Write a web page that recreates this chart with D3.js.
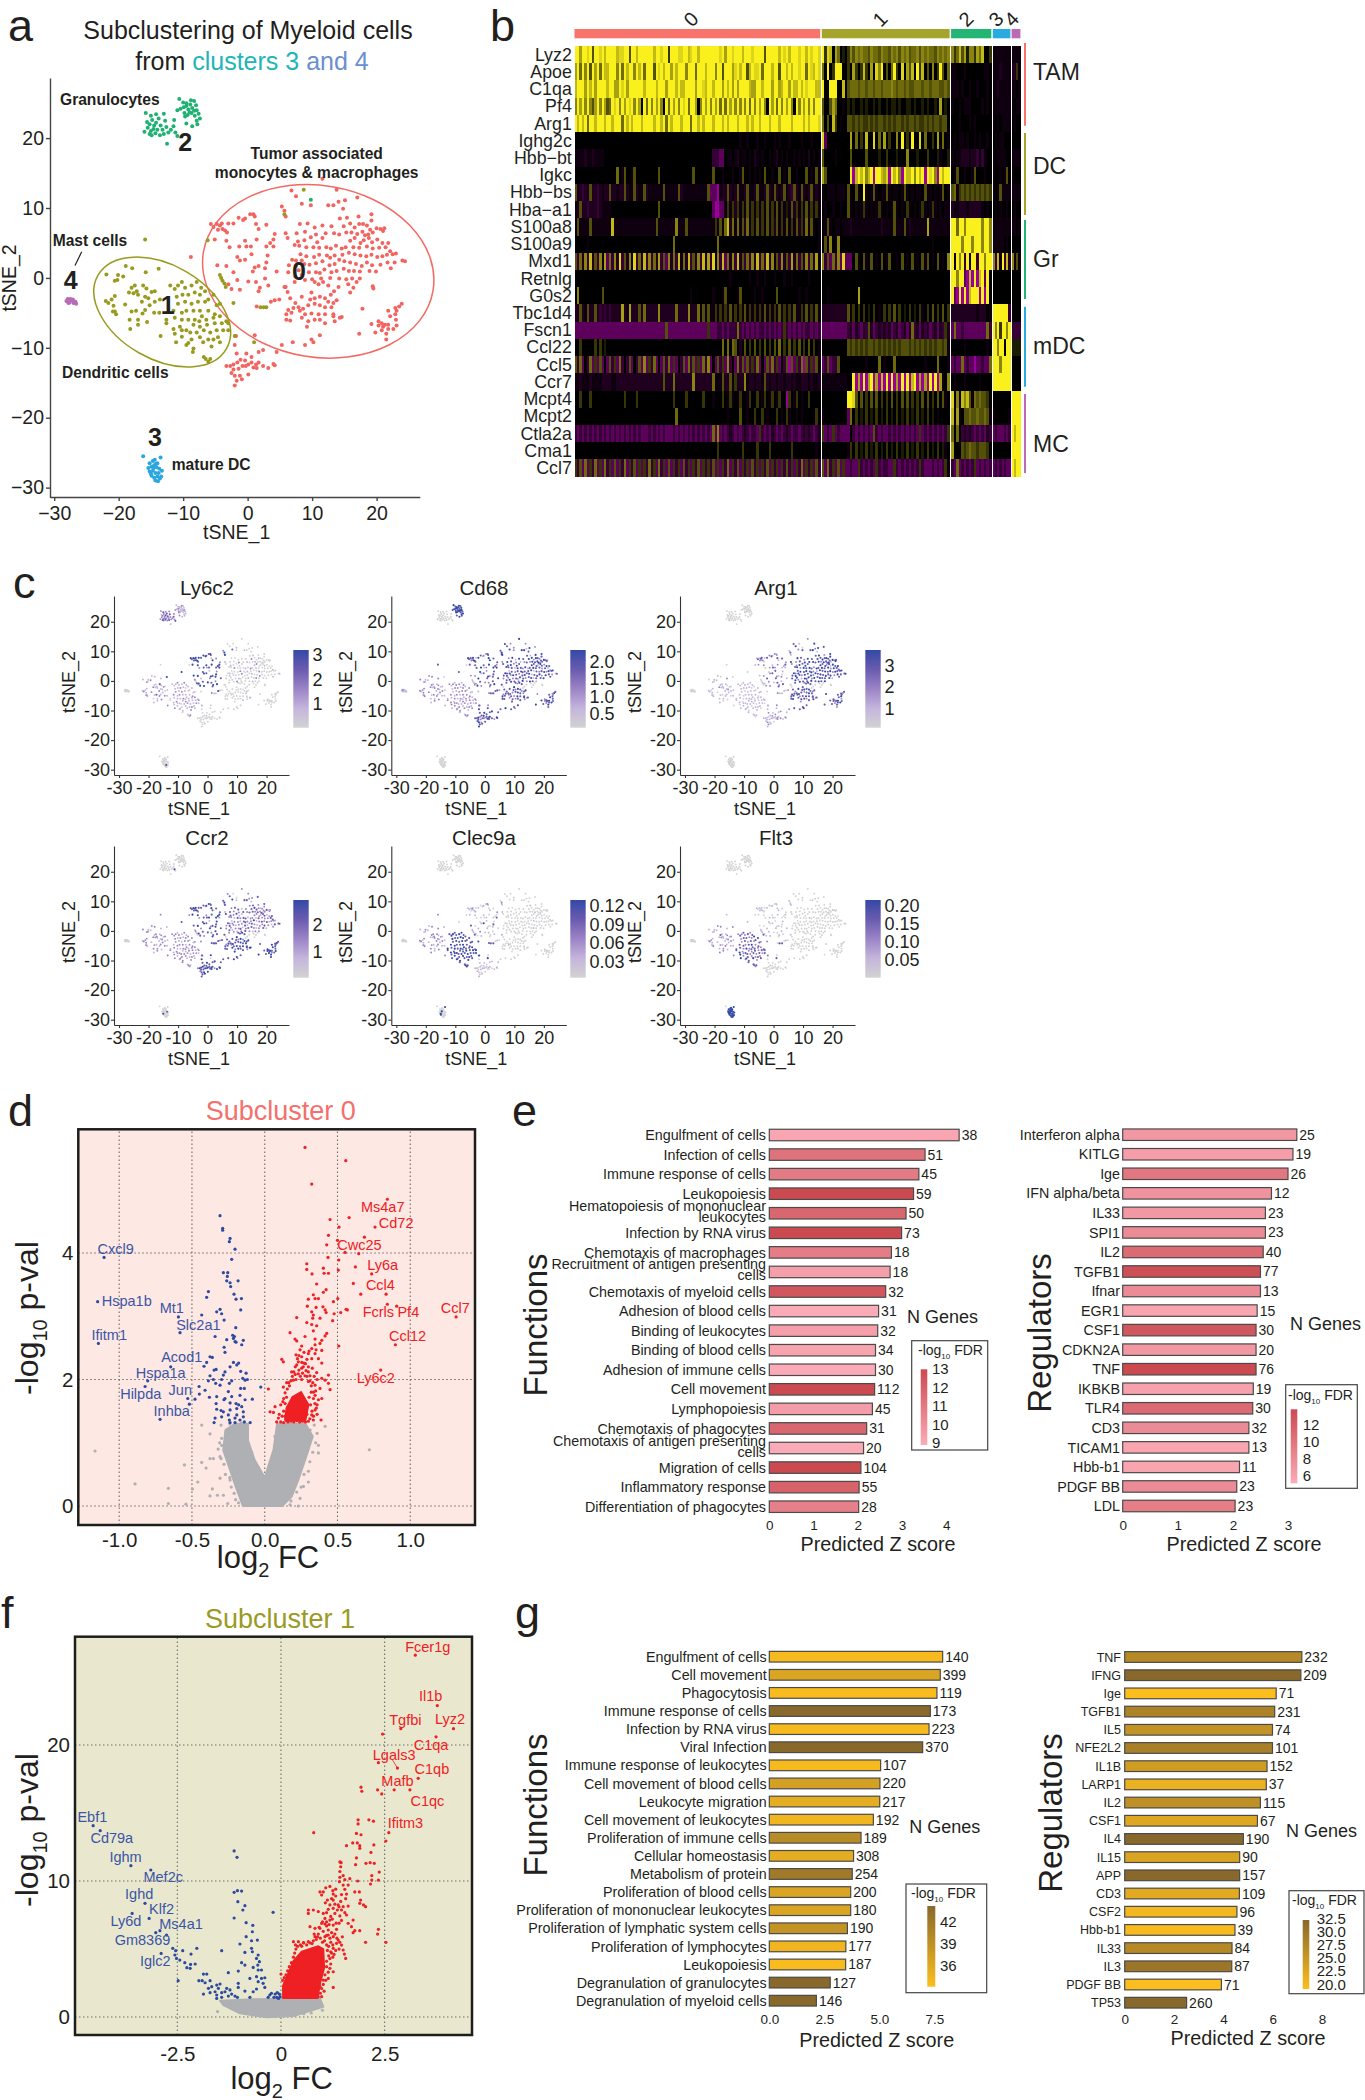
<!DOCTYPE html>
<html><head><meta charset="utf-8">
<script src="https://cdnjs.cloudflare.com/ajax/libs/d3/7.8.5/d3.min.js"></script>
<style>html,body{margin:0;padding:0;background:#fff}svg{display:block}text{font-family:"Liberation Sans",Arial,sans-serif;fill:#231f20}</style>
</head><body><svg id="c" width="1365" height="2100"></svg>
<script>
// ---------- tSNE coordinates ----------
const zoneA=[[-5.7,7.7],[-5.3,7.3],[-4.8,7.7],[-4.3,7.5],[-3.9,7],[-3.5,6.8],[-3.2,6.5],[-4.6,6.9],[-4,7.8],[-3,7.8],[-2.2,7.8],[-5.1,5.5],[-2.8,4.4],[-1.4,8.6],[-.4,8.5],[.4,9.1],[.9,9.1],[1.1,8.8],[1.3,7.7],[1.7,7],[2.9,7.6],[-3.3,5.3],[-1.3,4.5],[-.4,5.3],[-.2,4.5],[.5,4.5],[1.4,5.5],[2.9,4.5],[3.5,5],[4,5.5],[4.2,6.3],[4,4.5],[-1.6,3],[-1.2,2.5],[-.4,2.6],[-4.7,1.8],[-3.3,1.7],[-2.2,.8],[-1.6,-.3],[.1,-.5],[.8,.9],[1.1,1.5],[1.7,1.7],[2.9,2.2],[2.7,1.4],[4.5,.9],[1.3,-.6],[1.9,-1.4],[2.7,-.1],[3.2,-1.1],[-1.2,-1.7],[1.7,-1.9],[3.6,-3.4],[4.2,-3.2],[1.4,-4.1],[5.3,10.2],[5.7,9.6],[5.9,8.8],[-.7,8.3],[8.4,10.6],[-8.8,3],[-3,-.9],[-2.5,-1.6],[3.1,3.2],[.6,3.4],[5.7,-1.3],[4.9,-3.1]];
const zoneB=[[6.8,12.5],[7.5,11.7],[11.6,14.2],[13.8,12.6],[9.8,10.4],[12.5,10.4],[13.3,10.4],[14.1,10.9],[15.1,11.1],[17,11.5],[14.8,9.9],[19.2,9.1],[14.3,8.5],[15.4,8.6],[17.2,8.8],[19.2,8.2],[15.9,7.8],[16.6,7.2],[17.3,7.7],[17.9,7.7],[18.5,7.5],[19,6.9],[20,7.1],[20.6,7],[21,6.7],[21.2,7.1],[15.3,6.5],[16.1,6.5],[17,6.3],[17.8,6.6],[18.2,6.1],[18.7,6.2],[19.4,6.5],[14.9,7.4],[14.2,6.2],[13.4,6.4],[13,7.4],[11.6,7.5],[10.4,7.2],[9.3,7.8],[8.1,7.7],[7.6,6.4],[5.9,6.4],[6.2,5.7],[8.9,6.6],[10.6,6.2],[11.6,5.7],[12.1,6.4],[7.8,5.2],[8.8,5.4],[9.8,5.8],[10.8,5.1],[15.9,5.3],[16.6,5.7],[17.5,5],[18,5.4],[18.8,5.7],[19.3,5.1],[20.1,5.5],[20.9,5],[21.8,5],[21.4,4.4],[20.4,4.3],[19.4,4.2],[18.5,4.5],[17.3,4.3],[16.4,4.4],[15.2,4.4],[14.6,4.2],[13.7,4.6],[12.9,4.2],[12.2,4.4],[11.1,4.3],[10.2,4.4],[9.1,4.4],[8,4.6],[7.3,4.7],[22.1,3.8],[22.5,3.4],[23,3.5],[24,2.5],[24.4,2.4],[21.6,3.3],[20.9,3.1],[20.1,3],[19.2,3.3],[18.4,3.1],[17.5,3.2],[16.6,3.4],[15.7,3.6],[14.7,3.3],[13.5,3.2],[12.8,2.9],[12.3,3.2],[11.1,3.3],[10.3,3],[9.1,3.1],[8.2,3.4],[6.9,2.6],[7.5,2.5],[8.4,2.5],[22.8,2.2],[21.7,2.2],[22.2,1.4],[20.6,1.9],[19.3,1.8],[18.5,2.2],[17.7,1.7],[16.8,2],[15.9,2.2],[15,2.4],[14.2,2.6],[13.5,2],[12.7,1.8],[11.6,2.4],[10.6,2.1],[9.6,1.9],[8.8,2],[7.5,1.7],[6.4,1.8],[7.9,1.1],[19.9,.9],[18.9,1],[17.4,.9],[16.5,1],[15.7,1],[14.9,1.3],[13.8,1],[13,.8],[11.9,1.2],[11.2,.7],[10.6,.8],[9.5,.8],[8.4,.4],[7.4,.2],[6.3,.8],[17.4,-.1],[16.2,-.1],[15.3,-.2],[14.2,-.1],[12.8,0],[11.4,-.1],[10,-.2],[8.9,-.3],[7.3,-.6],[5.9,-1.3],[6.2,-2],[15.6,-.9],[16.9,-.6],[16.4,-1.4],[15.9,-2.1],[19.4,-1.2],[19.5,-1.5],[14.1,-1.3],[13.4,-1.9],[12.9,-2.4]];
const zoneC=[[6.6,-2.9],[8.4,-2.7],[9.9,-2.1],[10.4,-.6],[11,-.9],[11.7,-.6],[12.5,-1.1],[9.7,-3.1],[10.4,-2.9],[11.2,-2.7],[12,-2.9],[12.5,-3.4],[13.3,-3.6],[13.8,-3.2],[6.3,-4.6],[7.1,-4.3],[7.9,-4.2],[8.6,-4.4],[9.4,-3.9],[10.4,-3.7],[11.2,-3.9],[12,-4.2],[13,-4.2],[6,-5.2],[6.8,-5],[8.1,-4.7],[8.9,-5.2],[9.9,-5.1],[11,-5.2],[12,-5.2],[13.3,-5.2],[14.3,-5.7],[6,-6],[6.6,-6.1],[8.4,-5.7],[9.4,-6.2],[10.4,-6],[11.2,-6],[13.3,-5.5],[12,-6.5],[13.5,-6.2],[9.2,-7],[11.2,-8.2],[9.9,-8.8],[10.2,-9.2],[8.9,-9.6],[7,-9.2],[5.3,-9.6],[17.3,-8],[17.8,-4.4],[14.6,-5.6],[7.4,-3.6]];
const zoneD=[[23.9,-3.7],[23.5,-4.1],[23.1,-4.7],[21.8,-4.7],[22.9,-5.2],[22.1,-5.5],[23,-6],[20.3,-6.2],[19.2,-6.6],[20.8,-6.5],[21.3,-6.7],[21.8,-6.7],[20.3,-6.8],[21,-7],[23.1,-6.8],[22.6,-7.3],[21.8,-7.3],[20.8,-7.5],[19.8,-7.8],[21.5,-8],[21.5,-8.8],[22.9,-4.3]];
const zoneE=[[-1.8,-8.3],[-2,-9.6],[-1.7,-10.8],[-.2,-10.8],[.6,-11.3],[1.7,-10.6],[2.4,-10.3],[4.5,-10.6],[1.1,-8.2],[-3.3,-12.6],[-2.7,-12.6],[-2.2,-12.4],[-1.6,-12.1],[-1.1,-11.7],[-.4,-11.8],[.1,-12.4],[.6,-12.1],[1.3,-12.4],[1.7,-12.1],[2.4,-12.6],[3.2,-12.9],[4,-12.3],[4.2,-12.5],[-2.2,-13.1],[-1.4,-13],[.1,-13.8],[-2.5,-13.6],[-2,-14],[-1.2,-14],[-1.7,-14.7],[-.9,-14.5],[-2,-15.4],[1.4,-12.9],[-.3,-12.6],[-.8,-12.6],[.9,-12.8]];
const zoneF=[[-21.9,.5],[-20.6,-.4],[-20.1,.4],[-18.9,1.7],[-17.9,1.4],[-19.3,.2],[-20.2,-.3],[-15.8,.8],[-13.8,1.3],[-17.5,-1.1],[-18,-1.4],[-17.2,-1.9],[-18.4,-2.1],[-17.7,-2.2],[-17,-2.4],[-16.2,-1.1],[-15.7,-1.5],[-14.9,-2],[-14.4,-1.9],[-15.9,-2.7],[-15.4,-2.9],[-16.4,-3.4],[-20.6,-2.6],[-21.1,-3.1],[-22,-3.3],[-21.6,-3.6],[-20.8,-4],[-19,-3.8],[-18,-4.8],[-17.3,-4.7],[-15.9,-4.6],[-16.3,-5.1],[-20.9,-4.8],[-20.4,-5.2],[-20.6,-4.8],[-18.3,-6],[-17,-6],[-15.6,-6.3],[-17,-6.7],[-18.2,-7.3],[-15.2,-3.9],[-14.5,-5],[-14.4,-3.4],[-13.6,-3.1],[-13.5,-8.3],[-13.7,-5]];
const zoneG=[[-12,-1.1],[-11.3,-1.6],[-10.2,-.6],[-10.8,-1.1],[-9.7,-1.4],[-8.7,-1.1],[-7.9,-.6],[-7.2,-1.4],[-6.6,-1.9],[-11,-2.7],[-10.1,-2.4],[-9.2,-2.4],[-8.2,-2.1],[-7.4,-2.4],[-6.1,-3.1],[-5.3,-2.4],[-10.8,-3.7],[-9.7,-3.4],[-8.7,-3.7],[-7.7,-3.4],[-6.6,-3.4],[-4.8,-3.9],[-4.3,-3.7],[-11.5,-4.7],[-10.2,-5],[-9.5,-4.7],[-8.4,-4.7],[-7.4,-4.7],[-6.1,-4.7],[-5.1,-5.2],[-12.6,-6],[-11.3,-5.7],[-10.2,-6],[-9.2,-6],[-8.2,-6],[-7.1,-5.5],[-6.4,-6],[-5.3,-5.7],[-4.3,-5.5],[-3.3,-6.2],[-2.2,-3.6],[-12.6,-6.5],[-11.5,-7.3],[-10.5,-7],[-9.5,-7.5],[-8.4,-6.7],[-7.4,-7],[-6.3,-6.7],[-5.1,-6.5],[-4,-6.5],[-3,-6.5],[-11.3,-8],[-10.2,-8.4],[-8.9,-7.8],[-7.9,-7.8],[-6.8,-7.5],[-5.8,-7.8],[-4.8,-7.5],[-3.8,-7.5],[-3,-7.5],[-11.1,-9.2],[-9.5,-9.6],[-8.7,-8.8],[-7.4,-8.5],[-6.1,-8.8],[-5.3,-8.8],[-4.6,-8.5],[-8.4,-10.1],[-8.5,-10.6],[-6.9,-9.2],[-5.6,-9.8],[-4.3,-9.2],[-2,-8.3],[-6.8,-11.3],[-6.5,-11.6],[-6.1,-12],[-5.8,-11.6],[-9.2,-9.3],[-10.2,-7.5],[-7.5,-6.2]];
const zoneH=[[-15.9,5.5],[8.7,12.6],[5.7,9.1],[-6.2,5.4],[-4.3,.4],[-4.1,0],[-3.9,-.4],[-3.6,-.8],[-3.4,-1.3],[1,-9.2],[2,-4.2],[2.5,-4.2],[2.9,-4.2]];
const zoneI=[[-15.8,23.6],[-15,23.2],[-14.2,23.4],[-13,23.5],[-12.8,22.5],[-15.6,22.3],[-15.2,22],[-14.8,22.6],[-14.5,21.8],[-14.2,22.2],[-13.8,22.8],[-15.5,21.5],[-15,21],[-14.6,21.3],[-14.3,20.7],[-14,21.2],[-13.5,21.8],[-13.2,21.2],[-13,20.6],[-12.6,21.6],[-12.3,20.8],[-11.9,21.2],[-11.5,21.7],[-11.2,20.8],[-10.9,20.3],[-12.5,19.2],[-16,20.9],[-15.2,20.6],[-11.4,22.6],[-13.6,20.4],[-14.9,20.4]];
const zoneJ=[[-10.6,25.6],[-10,25.1],[-9.5,25],[-8.8,25.4],[-8.3,25.3],[-8,24.7],[-9.9,24.4],[-9.5,24.6],[-9.2,24.1],[-8.9,24.8],[-8.6,24.3],[-8.3,23.9],[-7.9,24],[-10.4,24.2],[-10.9,24],[-9.8,23.6],[-9.3,23.3],[-8.7,23.6],[-8.2,23.2],[-7.6,23.5],[-7.4,22.8],[-7.9,22.5],[-9.5,22.1],[-8.6,21.7],[-7.8,22],[-9.7,23.1],[-9,23.7],[9.8,11.2]];
const zoneK=[[-16.2,-25.5],[-13.5,-25.7],[-15.2,-26.5],[-14.7,-26.2],[-14.4,-26],[-14,-26.5],[-15.4,-27.2],[-14.9,-27],[-14.5,-26.8],[-14.1,-27.1],[-13.7,-27.3],[-15.2,-27.7],[-14.7,-27.6],[-14.3,-27.9],[-13.8,-27.9],[-13.3,-27.6],[-14.9,-28.3],[-14.5,-28.6],[-14,-28.4],[-13.6,-28.7],[-14.3,-29],[-13.9,-29.1],[-13.4,-28.4],[-15,-28],[-14.6,-27.2],[-14.2,-26.6]];
const zoneL=[[-28.1,-3.3],[-27.9,-3],[-27.6,-3.5],[-27.3,-3.2],[-27,-3.6],[-26.7,-3.4],[-27.5,-3],[-27.1,-3.1],[-26.6,-3.7],[-27.8,-3.6]];
const zones=[zoneA,zoneB,zoneC,zoneD,zoneE,zoneF,zoneG,zoneH,zoneI,zoneJ,zoneK,zoneL];
const zoneCluster=[0,0,0,0,0,1,1,1,2,2,3,4];
const clusterEllipses=[[10.95,.94,116.4,85.8,9.5,"#f26a63"],[-13.25,-4.88,74,47,29.9,"#9a9a1f"]];

// ---------- feature levels per zone, one character per cell, panel c ----------
const levelsLy6c2=["4343443344342433431424342343442434344134243443342443412244434442100","0000010000000100001000000001000002010000001002001000120001000000001020100020010001000002000100200001000100020010002000100000200100010000001000200","0000000000001000000000100000000100000001000000000000","0000000000000000000000","000000000000001000000000000000000000","1211120140112113120112111212131211201211120121","11211121111210112121011212111201112111210012112111211012112121011211012110112111210111211","0000200300010","2322312223322232323222323123222","1112112111112122111111211211"," 00000000000000000400000000","0000000000"];
const levelsCd68=["4332443241433322334433431244323441322432342334233422332344143243232","4342244142343143424323433124344234323414242332313424433143243132334314234133413413424323143334323143423342433143432342332433143234232432134242343","3343243324323423332343243232433243232343234323434233","3423343243342334323432","343433432334234233432343233423343234","2212211201212121211211222122121212211221212111","21122212112212121122211212122211212121121221212121122112121212211212121221212121212112212","3240011123323","0000000000000000000000000010000","4344344434344434344344343442"," 00000000000000000000000000","1211111111"];
const levelsArg1=["1313210231320212123132213221232102312321321021321323102131320121302","3424334243143424343433424342433414343423424234342434433241434342434342343424333434342434341243434342434324343434243423434143343424341243434343343","3432343343432343343234334323433234343233423343323432","3233432332343234323323","112121212111012112121211101212112111","0111010201112111010121101110101101111001101101","11101111011110111011011101111011011101110110111101101111011011101110111011101111011011101","0101000101101","0000000000000000000000000000000","0000000000000000000000000000"," 00000000000000000000000000","0000000000"];
const levelsCcr2=["3343432343342344234334323434443234334233423343234324323343243434133","2322133223132322432122312232323123322133231422133241222133123322231221332312232133213232142233122132231223221232132212322132123321322132221232122","3343343324243424343343433234343433424343243424334343","3434343433434343243443","343433434243433434324343342343433343","2212212112122211212121221221212121122121221121","22122121221212122112212122212212112212212212211221221222122121221212212121221222121221212","2012021100333","0000000000000000000000040000000","0000000000000000000000000000"," 00000000030000000000004000","0000000000"];
const levelsClec9a=["1102011010110011210101010101002301430121100310100110013020100100110","0000000000000100000000000000100000000000001000000000000000000000000000000000000000000000100000000000000000000000000000000000100000000000000000000","0000000000000000000000000100000000000000000000000000","0000000000000000000000","101101110110101011101110101101110110","1121211212221122121212212211212122121212112121","34343443343344343434343443343343434433434343433434434343433434343434334343443343433443433","2010111034303","0000000000000000000000000000000","0000000000000000000000000000"," 40000000000000040000004400","0000000000"];
const levelsFlt3=["1010100110100110101100101010010010100110101001011010010101001011000","0000000000000000000000100000000000000000000000000000000000000000000000010000000000000000000000000000000000000000000000000000000000000000000000000","0000000000000000000000000000000000000000000000000000","0000000000000000000000","000000000000000000000000000000000000","1112211121311211212121121211211212112122112121","23322323423322342323232332342323242332232342322323342323232342322323342323323423323233423","1010111033303","0000000000000000000000000000000","0000000000000000000000000000"," 44444444444444444444444444","0000000000"];

// ---------- heatmap, panel b: one string per gene, one part per cluster ----------
const heatGenes=["Lyz2","Apoe","C1qa","Pf4","Arg1","Ighg2c","Hbb−bt","Igkc","Hbb−bs","Hba−a1","S100a8","S100a9","Mxd1","Retnlg","G0s2","Tbc1d4","Fscn1","Ccl22","Ccl5","Ccr7","Mcpt4","Mcpt2","Ctla2a","Cma1","Ccl7"];
const heatClusterLabels=["0","1","2","3","4"];
const heatRow01=["9969989399897999978899399799999979989929998899789979999999989699899979998999939999979897999899798998","92870640102535454435443544354535453445354544354545","5247361552647002","aaaaaaaa","aaaa"];
const heatRow02=["6949593969497799959497995979499939897996979995999499979995993999689799379889499979939979799899498798","40902999002062027206085903049208063709270305029304","aa000a0000000aa0","aaabaaaa","bb2a"];
const heatRow03=["7999697969999799669896999999799997999699979779999699879979996979696999976699799969967996977979899977","90099900703444344344344344454344343344434434443343","aaa0a00a00a000a0","aabaaaaa","aa0a"];
const heatRow04=["5969595369596349895969895960949596950949695989499605969596949496959595949596950969495969509596959599","30036400a01010010100101001011010011010010100106010","a00a0aaa0000a0a0","aaaaaaaa","a0aa"];
const heatRow05=["9797949979997997999497979997999979979497999799949979799979997979997999797997999799979999799997979998","4030720a003323232232323323232332323323223232332330","000a000a0a000000","a0a0aaaa","0a00"];
const heatRow06=["0000000000000000000000000000000000000000000000000000000000000000000a00a000a00a000a0a000a0000a000a000","8d00000000060402070080406020050902090080400206040a","0a0aa0a00a0a00a0","0a0aa000","0000"];
const heatRow07=["aaaabaabaaaa00000000000000000000000000000000000000000000cccdd0aa0ab0aa0a0ba0a00a0ab0a0a00a0a0a0b0a0a","30000a0000030000030000100200010005000100020001a001","a0aabbbabbc0ca00","a0aaaa00","aaaa"];
const heatRow08=["0000000000000000040a300a300000000030000000000000300000003000a000a00a300a0a0a0300a0030a0300a00030a03a","630000000009e7979579e99768e9795e97795979e9895e9799","0a300a00a3000a00","a00a0a30","a000"];
const heatRow09=["3bbcbb3bbcbabb3bbabb3baa3baa3baaaaaa3aaaaa3baaaaaaaaaa3dddeabb3bab3aab3aab3aab3ba3bab3abc3ba3bab3aba","a0aaa0aaa03a03a09a0a3a0aa3a0aa0a3a0a0aa03aa0a0a30a","34a2323232323232","a0a3aaaa","aaaa"];
const heatRow10=["ab3bbcbbbcbaaaa00000000000000000003000000000000000000000deedda2a2b2a2a3a2a2a2a3a2a3a2a1a3b2a2a3a2a2a","0a00a00a003a0a0a2a0a0a2a0a0a3a0a02a0a0a2a0a2a0a0aa","baabbbabbbbba0a0","0a0a00a0","0a00"];
const heatRow11=["a3aaaa3aaaaaaaa7aaaaaaaaaaaaaaaaa3aaaaaaa5aaa3aaaaaaaaaaa2a3a47b4a4a3b4a2a3a2a3a2b3a2a3a2a3b2a4a3a0a","0a3a0aa0aaabaaaaaaaaaaabaaaa3aaa3abaaaaaa6aaaaaaaa","9949959999995995","aaaaaaaa","aa0a"];
const heatRow12=["00000a000000000000000000000000000000000040000000000000000040000000000000000000000000000000000000000a","03a50a5000000000000000000000000000000000000a000000","9999599959995995","aaaaa0a0","0000"];
const heatRow13=["3c4b5c7b3c5a6d4c5b8c3b5a8c4b7c5c4b6c3d5b4c7a4b7c3b5c7b6c8a5c7d4b5c7b3c4c5b7c4c7b5a3c5b3c6b4c3b5c4b6a","5c3d4c5d8ddd03a03a030a030a300a030a030a03a30a030a05","9a959c9a99c99599","5c7a9c7b","5a3a"];
const heatRow14=["000000000000000000000000000000000000000000000000000000000000000a0000000a00a00a000a000a00a000000a0000","00000000000000000000000000000000000000000000000000","99599de7e9e79d90","00000000","0000"];
const heatRow15=["05000000000300000000000000000000000000000000000a00000000a000a30000a300000a00a00000300000000a00a00000","00a00000000000600000000000000000000000000000000000","9de9e9e7999e9e90","00000000","0000"];
const heatRow16=["bb3ba3bb3bcbcbcbbbb6ba6bbb3b4bbbbb5bbbbbb4bbbb5bbb4a3a3aa2a2a2a3a2a2a3a2a2a2a3a2a2a3a2a2a3aa2a3a2a3a","bbbbbbbbbb3a2020201020a0202030201020102a0203020302","bbbbbbbbbbabbb0a","9999999c","0000"];
const heatRow17=["ddddddddddddddddddddddddddddddddddddd3dddddddddddddddd2dddccdcdccc4cdcdcdcdccdcdcdcdc2cdcdcdcdccdcdc","ddddddddddcbdbcdbc3bdcbcbcbdcbdcbdb4cbdbcbdcbdbc2b","d4ddcddddddddd4c","95929959","cccc"];
const heatRow18=["0020000020201000000000000000000000000000000000000000000000004040430b0302030203020304020302030203020a","0000000000323232323323232323232333232323232323323a","00000a00000000a0","99599099","1111"];
const heatRow19=["3c4d0c4d2d3d0d3c2d4c0c3d0c3d5d2c4d0d3c4d2d0c3d4c3d2d4c5d0d3c2d5c0d4c3d3c2c4d0d3d4c2d0c3e3d2c4e3c2d3a","dc3dcc30000000000a000040a000400000000000a00004000a","dcdd4dcddeddcdd4","99959999","0000"];
const heatRow20=["aabaaabaaaabbbbaabbbbbbbbbbbbbbbbbbb3bbb4bbbbbbb5bbbbbbb4aaa3bb3a2bbb5abbabba3babbabbabbabaabbbabaab","aaaaaaaaaa009e6e9e69e6e7e9e9e6e9e9e79e6e6e9e9e6a05","0a000a00000a0000","99999999","0000"];
const heatRow21=["00200020000000000000200002000000000000002000020000002000a00020a2a0a200a20020a20a20a200e20a20a0020000","000000000099830302030302020302030302020303020303a0","8a5a7573a4343320","00000000","9999"];
const heatRow22=["00000000000000000000000000000000000000000400000000000000000000a0000300a0020020a00020a02a00a0a0000020","a000000000d4020102010201020102010201020102010a0000","7a6a03343343343a","a000000a","9999"];
const heatRow23=["cdcdcdcdcdcdcdcdcdcdcdcdcdcdddcdcdcdcdddcdcdcdcdcdcdcdcd4d5dcdcbcdcdcbcdccd2cdcdbcdcdcbcdccdcbcbcdcb","2dcd2dcdddd0cdcdcdcd3cdcddcdcdcdcdcdcd2dcdcdcdcdc2","4040cbcbcdcdcdbc","dcdddcdc","9799"];
const heatRow24=["00000000000000000000000000000000000000000000000000000000002000000000200000200002000000002000000000a0","0000000000a2020102010201020102010201020102010201a0","6000323433233320","00000000","9999"];
const heatRow25=["2c3d4d2c4d2d4c2d3d2c4d2c3d2d2c4c2d4c2d3d2c2d3c2d2c3d2c2c3d2d2c4d2c3d2c2d3c2d2c3d2c2d2c3c2d2c4d2c2d3c","3d4c2d3d2ddcdd2cdcdcd2cdccdd2cdcdcdcdc2cdddcdcdc2a","cd4dcdcdc2dcdcdc","dcdcdcdd","9799"];
const heatRows=[heatRow01,heatRow02,heatRow03,heatRow04,heatRow05,heatRow06,heatRow07,heatRow08,heatRow09,heatRow10,heatRow11,heatRow12,heatRow13,heatRow14,heatRow15,heatRow16,heatRow17,heatRow18,heatRow19,heatRow20,heatRow21,heatRow22,heatRow23,heatRow24,heatRow25];
const heatNegative={a:-.15,b:-.3,c:-.55,d:-.9,e:-1.5};
const heatGroupNames=["TAM","DC","Gr","mDC","MC"];

// ---------- volcano panel d ----------
const volcanoDBlue=[[-1.104,3.93],[-1.148,3.23],[-1.143,2.57],[-.593,2.99],[-.582,2.74],[-.433,3.02],[-.646,2.2],[-.804,1.98],[-.822,1.89],[-.529,1.7],[-.719,1.37],[-.518,1.61],[-.307,4.59],[-.289,4.39],[-.289,4.36],[-.238,4.23],[-.243,4.18],[-.204,4.06],[-.227,3.9],[-.284,3.69],[-.254,3.69],[-.257,3.63],[-.261,3.56],[-.238,3.53],[-.234,3.47],[-.183,3.56],[-.387,3.39],[-.399,3.3],[-.211,3.35],[-.197,3.27],[-.16,3.28],[-.165,3.1],[-.33,3.07],[-.307,3.11],[-.296,3.04],[-.279,2.94],[-.199,2.82],[-.341,2.68],[-.22,2.7],[-.208,2.68],[-.215,2.65],[-.261,2.63],[-.204,2.6],[-.197,2.59],[-.147,2.62],[-.158,2.55],[-.279,2.51],[-.273,2.43],[-.376,2.36],[-.36,2.35],[-.399,2.27],[-.417,2.21],[-.215,2.27],[-.192,2.23],[-.179,2.26],[-.238,2.2],[-.165,2.13],[-.334,2.16],[-.348,2.15],[-.273,2.12],[-.284,2.07],[-.376,2.06],[-.353,2],[-.296,2],[-.128,2.1],[-.151,2.02],[-.135,1.99],[-.119,2],[-.387,1.98],[-.337,1.94],[-.307,1.91],[-.243,1.94],[-.227,1.98],[-.14,1.86],[-.027,1.88],[-.451,1.89],[-.41,1.83],[-.449,1.77],[-.479,1.69],[-.38,1.72],[-.25,1.81],[-.165,1.86],[-.33,1.73],[-.273,1.7],[-.17,1.75],[-.085,1.69],[-.227,1.73],[-.135,1.68],[-.334,1.62],[-.28,1.68],[-.238,1.63],[-.197,1.62],[-.179,1.6],[-.158,1.57],[-.33,1.53],[-.3,1.51],[-.284,1.49],[-.238,1.52],[-.192,1.54],[-.147,1.49],[-.25,1.44],[-.341,1.39],[-.296,1.41],[-.192,1.44],[-.147,1.41],[-.348,1.32],[-.243,1.36],[-.204,1.39],[-.17,1.36],[-.238,1.32],[-.204,1.32],[-.14,1.33],[-.1,1.32]];
const volcanoDRed=[[.277,5.67],[.557,5.46],[.323,5.09],[.843,4.85],[.58,4.56],[.449,4.53],[.758,4.41],[.511,4.41],[.438,4.28],[.685,4.25],[.426,4.13],[.5,4.2],[.552,4.01],[.646,3.99],[.435,3.93],[.509,3.89],[.623,3.78],[.506,3.73],[.438,3.68],[.403,3.76],[.408,3.68],[.289,3.83],[.289,3.74],[.325,3.67],[.735,3.67],[.609,3.52],[.357,3.51],[.834,3.35],[.66,3.35],[.422,3.42],[.403,3.38],[.334,3.34],[.3,3.27],[.346,3.28],[.369,3.28],[.502,3.28],[.472,3.23],[.843,3.19],[.907,3.16],[.293,3.16],[.353,3.14],[.4,3.15],[.559,3.11],[.568,3.1],[.323,3.07],[.415,3.1],[.422,3.06],[.522,3.06],[.477,3.04],[.334,3.02],[.33,2.97],[.22,2.98],[.38,2.97],[1.315,2.99],[.467,2.93],[.289,2.9],[.323,2.87],[.357,2.85],[.174,2.74],[.334,2.77],[.426,2.73],[.415,2.69],[.277,2.68],[.346,2.64],[.208,2.64],[.22,2.61],[.392,2.62],[.38,2.57],[.346,2.55],[.898,2.55],[.509,2.53],[.254,2.53],[.323,2.49],[.353,2.47],[.243,2.47],[.392,2.46],[.3,2.41],[.346,2.41],[.215,2.39],[.254,2.36],[.323,2.33],[.369,2.33],[.117,2.32],[.128,2.28],[.231,2.28],[.27,2.26],[.392,2.26],[.22,2.23],[.327,2.18],[.254,2.18],[.284,2.14],[.797,2.15],[.438,2.07],[.357,2.11],[.231,2.09],[.277,2.06],[.311,2.06],[.392,2.02],[.415,1.99],[.197,1.99],[.254,2],[.3,1.97],[.151,1.95],[.128,1.88],[.438,1.94],[.025,1.85],[.449,1.84],[.346,1.91],[.38,1.86],[.14,1.79],[.392,1.7],[.369,1.68],[.346,1.75],[.071,1.57],[.037,1.49],[.06,1.48],[.387,1.36],[.334,1.36],[.094,1.39],[.082,1.33],[.346,1.52],[.323,1.44],[.1,1.45],[.11,1.6],[.13,1.7],[.335,1.8],[.36,1.6],[.215,2.0],[.3,2.12],[.36,2],[.17,1.9],[.11,1.33],[.12,1.42],[.13,1.5],[.125,1.65],[.14,1.62],[.15,1.72],[.155,1.85],[.165,1.95],[.18,1.98],[.19,2.05],[.2,2.12],[.21,2.2],[.225,2.33],[.235,2.15],[.245,2.05],[.26,2.1],[.265,2.2],[.28,2.25],[.29,2.05],[.31,1.98],[.32,1.9],[.33,1.95],[.34,2.05],[.35,1.82],[.335,1.7],[.345,1.62],[.355,1.55],[.325,1.5],[.335,1.42],[.31,1.38],[.3,1.34],[.29,1.45],[.315,1.6],[.305,1.72],[.32,1.8],[.15,1.35],[.14,1.42],[.13,1.32],[.16,1.33],[.18,1.34],[.2,1.33],[.22,1.35],[.24,1.33],[.26,1.34],[.28,1.33],[.36,1.45],[.3,2.2],[.255,2.27],[.185,2.12],[.21,2.08],[.235,2.38],[.27,2.43],[.29,2.32],[.305,2.45]];
const volcanoDGray=[[-1.166,.87],[.719,.89],[-.433,1.28],[-.376,1.14],[-.552,.65],[-.433,.69],[-.403,.6],[-.376,.75],[-.353,.75],[-.46,.38],[-.891,.35],[-.662,.28],[-.497,.27],[-.36,.27],[-.376,.16],[-.325,.17],[-.662,.04],[-.541,.03],[-.254,.04],[-.284,.17],[-.307,.44],[-.296,.96],[.415,1.26],[.369,.96],[.369,.84],[.3,.38],[.266,.31],[.243,.12],[.231,0],[.323,1.1],[.312,1.2],[-.307,.78],[-.296,1.07],[-.261,1.2],[.174,.02],[-.238,.41],[-.215,.52],[-.31,1],[-.32,.9],[-.3,.75],[-.28,.66],[-.27,.5],[-.24,.45],[-.23,.3],[-.21,.2],[-.2,.1],[-.18,.05],[-.3,1.28],[-.24,1.3],[-.16,1.31],[.34,1.28],[.36,1.15],[.35,1],[.33,.85],[.31,.7],[.3,.55],[.27,.5],[.25,.3],[.22,.22],[.18,.08],[-.09,.85],[-.07,.65],[-.04,.58],[.03,.6],[.05,.75],[.07,1.1]];
const volcanoDGrayCloud=[[-.15,0],[-.2,.31],[-.245,.62],[-.285,.885],[-.27,1.2],[-.205,1.3],[-.115,1.3],[-.115,1.04],[-.07,.73],[0,.45],[.06,.885],[.085,1.3],[.28,1.3],[.33,1.1],[.285,.78],[.23,.41],[.185,.15],[.12,0]];
const volcanoDRedCloud=[[.14,1.36],[.15,1.55],[.19,1.72],[.25,1.8],[.3,1.6],[.28,1.36]];
const volcanoDBlueText=[["Cxcl9",-1.024,4.07],["Hspa1b",-.948,3.24],["Mt1",-.639,3.13],["Slc2a1",-.456,2.86],["Ifitm1",-1.068,2.71],["Acod1",-.57,2.35],["Hspa1a",-.715,2.11],["Hilpda",-.852,1.77],["Jun",-.58,1.83],["Inhba",-.639,1.5]];
const volcanoDRedText=[["Ms4a7",.811,4.72],["Cd72",.903,4.48],["Cwc25",.651,4.13],["Ly6a",.811,3.81],["Ccl4",.795,3.49],["Fcrls",.781,3.06],["Pf4",.987,3.06],["Ccl7",1.31,3.13],["Ccl12",.981,2.69],["Ly6c2",.763,2.03]];

// ---------- volcano panel f ----------
const volcanoFBlue=[[-4.53,14.07],[-4.36,13.7],[-3.62,11.13],[-3.14,10.81],[-3.28,8.36],[-3.59,7.62],[-3.18,7.25],[-2.92,6.35],[-3.02,6.2],[-2.76,6.03],[-2.89,4.68],[-1.13,12.21],[-1.06,11.74],[-1.13,9.17],[-1.05,9.29],[-.95,9.26],[-1.04,8.48],[-.87,8.19],[-.92,7.87],[-.19,7.7],[-1.13,7.28],[-.84,6.94],[-.68,6.74],[-.69,6.27],[-.84,5.91],[-.57,5.66],[-.71,5.61],[-.99,5.37],[-.71,5.05],[-.69,4.8],[-.87,4.75],[-.55,4.56],[-1.43,4.88],[-2.03,5.05],[-2.17,4.63],[-2.61,5.05],[-2.54,4.88],[-2.56,4.56],[-2.37,4.88],[-2.52,4.31],[-2.44,4.19],[-2.32,4],[-2.07,3.9],[-2.18,3.87],[-2.27,3.63],[-2.19,3.58],[-.95,4],[-.87,3.82],[-.59,4.31],[-.52,4.07],[-.56,3.82],[-.67,3.65],[-.55,3.46],[-.47,3.46],[-1.03,3.38],[-1.27,3.26],[-.75,2.84],[-.59,2.97],[-.47,2.84],[-.39,2.89],[-.55,2.6],[-.43,2.48],[-.39,2.18],[-.59,2.06],[-.67,1.86],[-1.03,2.48],[-1.03,2.18],[-.87,1.91],[-.75,1.45],[-2.48,2.67],[-1.87,3.16],[-1.79,3.16],[-1.98,2.67],[-1.9,2.67],[-1.83,2.52],[-1.71,2.67],[-1.75,2.11],[-1.87,1.69],[-1.67,2.23],[-1.55,2.35],[-1.47,2.43],[-1.59,1.86],[-1.51,2.11],[-1.71,1.79],[-1.55,1.62],[-1.43,1.79],[-1.31,2.11],[-1.35,1.86],[-1.23,1.99],[-1.19,1.69],[-1.11,1.54],[-1.05,1.45],[-1.27,1.54],[-1.43,1.45],[-1.55,1.37],[-.31,1.45],[-.23,1.74],[-.27,1.62],[-.14,1.69],[-.09,1.79],[-.04,1.69],[-.1,1.45],[-.02,1.5],[-.17,1.45],[-.06,1.37]];
const volcanoFRed=[[3.24,26.6],[3.77,22.9],[4.16,21.2],[2.89,21.2],[2.45,20.8],[3.74,20.6],[2.81,18.3],[2.35,18.7],[3.31,17.55],[2.73,16.7],[3.11,16.7],[2.33,16.7],[2.43,16.4],[1.93,16.9],[1.95,16.6],[2.6,13.55],[2.53,12.94],[1.86,14.5],[1.86,14.2],[2.12,14.5],[2.23,14.4],[1.82,13.5],[1.93,13.4],[.79,13.55],[1.73,12.8],[1.58,12.6],[1.84,12.8],[1.9,12.6],[1.9,12.4],[2.24,12.65],[2.17,12.1],[1.82,11.7],[1.42,11.4],[1.45,11.35],[1.8,11.2],[2.05,11.3],[2.15,11.35],[2.25,11.3],[1.44,11.05],[1.42,10.7],[2.37,10.66],[2.19,10.4],[2.35,10.07],[2.19,10.07],[2.16,9.78],[1.42,10.27],[1.5,10.4],[1.54,10.1],[1.66,10.17],[1.85,10],[1.41,9.95],[1.5,9.7],[1.62,9.7],[1.54,9.39],[1.78,9.2],[1.89,9.2],[1.58,9.04],[.94,9.2],[1.02,9.2],[1.25,9.29],[.98,8.97],[1.26,9.04],[1.92,8.6],[1.9,8.36],[1.99,8.24],[2.04,8.11],[1.26,8.6],[1.38,8.24],[1.62,8.16],[1.5,8.11],[1.18,8.24],[1.14,7.92],[1.26,7.99],[1.36,7.87],[1.46,7.87],[.66,7.87],[.78,7.87],[.9,7.75],[.66,7.62],[1.02,7.62],[1.1,7.67],[1.3,7.62],[1.54,7.67],[1.58,7.5],[1.42,7.43],[1.06,7.25],[1.18,7.13],[1.74,7.13],[1.62,6.89],[.98,6.89],[1.06,6.84],[1.26,6.76],[1.7,6.64],[.7,6.64],[.82,6.52],[.94,6.52],[1.14,6.4],[1.34,6.45],[2.35,6.45],[1.9,6.35],[1.78,6.35],[1.74,6.2],[2.33,6.1],[1.14,6.03],[1.26,5.91],[1.06,5.91],[.82,5.91],[2.04,5.49],[2.53,5.49],[1.38,5.66],[1.34,5.42],[1.46,5.29],[1.5,4.93],[1.53,4.63],[1.56,4.31],[1.26,5.05],[.3,5.54],[.42,5.54],[.54,5.47],[.66,5.54],[1.26,3.33],[1.18,3.58],[1.26,2.18],[.94,2.23],[1.02,2.72],[1.14,2.84],[.98,1.5],[0,3.16],[.9,6.1],[1.02,6.3],[1.2,5.5],[1.15,5.2],[1.2,4.8],[1.25,4.4],[1.2,3.9],[.35,5.3],[.5,5.2],[.75,5.4],[1.1,6.7],[1.2,7.4],[.04,2.7],[.08,2.9],[.12,3.1],[.16,3.4],[.2,3.7],[.25,4],[.3,4.4],[.33,4.7],[.36,5],[.4,5.2],[.47,5.3],[.55,5.45],[.62,5.3],[.7,5.45],[.78,5.6],[.85,5.7],[.95,5.8],[1,5.5],[1.05,5.6],[1.1,5.3],[1.12,4.9],[1.15,4.5],[1.1,4.1],[1.18,4.3],[1.22,4.7],[1.28,4.6],[1.32,4.9],[1.4,5],[1.1,3.7],[1.14,3.3],[1.06,3.1],[1.08,2.7],[1.02,2.4],[.98,2.1],[1.04,1.9],[.95,1.75],[.9,1.5],[.8,6.1],[.88,5.9],[.92,6.6],[1,7],[1.1,6],[1.18,5.8],[1.22,6.2],[1.3,6.1],[1.25,5.3],[1.35,5.8],[1.42,5.5],[1.48,5.9],[1.1,7],[1.16,6.8],[1.24,7.2],[1.33,6.9],[1.4,6.9],[1.46,7.1],[1.3,8.3],[1.44,8.5],[1.22,8.7],[1.32,8.9],[1.12,8.6],[1.07,8.4],[1.56,8.7],[1.46,9],[1.08,9.5],[1.18,9.6],[1.32,9.4],[1.4,8.1]];
const volcanoFGrayCloud=[[-1.47,1.2],[-.67,1.3],[.94,1.37],[1.02,.76],[.3,.07],[-.35,-.02],[-.99,.27],[-1.39,.88]];
const volcanoFRedCloud=[[.05,1.4],[.05,2.3],[.3,4.1],[.5,4.8],[.9,5.2],[1.02,5],[1.04,3.6],[.95,2.6],[.88,1.4]];
const volcanoFGray=[[-1.53,.4],[.73,.3],[1,.5],[-.95,.5],[-1.25,.9],[-.6,.15],[.55,.25],[.85,1.2]];
const volcanoFBlueText=[["Ebf1",-4.55,14.73],["Cd79a",-4.08,13.14],["Ighm",-3.75,11.79],["Mef2c",-2.84,10.27],["Ighd",-3.42,9.02],["Klf2",-2.88,7.92],["Ly6d",-3.74,7.03],["Ms4a1",-2.41,6.81],["Gm8369",-3.34,5.66],["Iglc2",-3.03,4.14]];
const volcanoFRedText=[["Fcer1g",3.54,27.2],["Il1b",3.61,23.6],["Tgfbi",3,21.8],["Lyz2",4.08,21.9],["C1qa",3.62,20],["Lgals3",2.73,19.3],["C1qb",3.64,18.2],["Mafb",2.81,17.35],["C1qc",3.53,15.9],["Ifitm3",3,14.24]];

// ---------- bars, panels e and g ----------
const eFuncCats=["Engulfment of cells","Infection of cells","Immune response of cells","Leukopoiesis","Hematopoiesis of mononuclear\nleukocytes","Infection by RNA virus","Chemotaxis of macrophages","Recruitment of antigen presenting\ncells","Chemotaxis of myeloid cells","Adhesion of blood cells","Binding of leukocytes","Binding of blood cells","Adhesion of immune cells","Cell movement","Lymphopoiesis","Chemotaxis of phagocytes","Chemotaxis of antigen presenting\ncells","Migration of cells","Inflammatory response","Differentiation of phagocytes"];
const eFuncZ=[4.29,3.52,3.38,3.26,3.09,2.99,2.76,2.73,2.63,2.47,2.45,2.40,2.40,2.38,2.33,2.20,2.13,2.07,2.03,2.02];
const eFuncN=[38,51,45,59,50,73,18,18,32,31,32,34,30,112,45,31,20,104,55,28];
const eFuncFdr=[9.2,11.3,11,13,11.8,13.2,10.9,9.5,12.5,9,9.5,9.3,9,13.2,9.6,11.8,9,13,12,10.8];
const eRegCats=["Interferon alpha","KITLG","Ige","IFN alpha/beta","IL33","SPI1","IL2","TGFB1","Ifnar","EGR1","CSF1","CDKN2A","TNF","IKBKB","TLR4","CD3","TICAM1","Hbb-b1","PDGF BB","LDL"];
const eRegZ=[3.16,3.09,3.0,2.70,2.59,2.59,2.55,2.50,2.50,2.44,2.42,2.42,2.42,2.37,2.36,2.29,2.29,2.12,2.07,2.04];
const eRegN=[25,19,26,12,23,23,40,77,13,15,30,20,76,19,30,32,13,11,23,23];
const eRegFdr=[7,6.5,9.5,7.3,7,8,10.5,12.5,8,6,12,7,13,6.3,10.5,8,6,6,8,9];
const gFuncCats=["Engulfment of cells","Cell movement","Phagocytosis","Immune response of cells","Infection by RNA virus","Viral Infection","Immune response of leukocytes","Cell movement of blood cells","Leukocyte migration","Cell movement of leukocytes","Proliferation of immune cells","Cellular homeostasis","Metabolism of protein","Proliferation of blood cells","Proliferation of mononuclear leukocytes","Proliferation of lymphatic system cells","Proliferation of lymphocytes","Leukopoiesis","Degranulation of granulocytes","Degranulation of myeloid cells"];
const gFuncZ=[7.88,7.77,7.62,7.32,7.26,6.97,5.06,5.03,5.02,4.73,4.17,3.83,3.77,3.70,3.70,3.55,3.48,3.47,2.77,2.14];
const gFuncN=[140,399,119,173,223,370,107,220,217,192,189,308,254,200,180,190,177,187,127,146];
const gFuncFdr=[34.5,37,34.3,44,34.5,44,34.5,37.5,36,35,40,36,42,37,37,39,35,34.3,44,44];
const gRegCats=["TNF","IFNG","Ige","TGFB1","IL5","NFE2L2","IL1B","LARP1","IL2","CSF1","IL4","IL15","APP","CD3","CSF2","Hbb-b1","IL33","IL3","PDGF BB","TP53"];
const gRegZ=[7.18,7.14,6.14,6.08,5.99,5.99,5.77,5.74,5.50,5.38,4.81,4.66,4.66,4.65,4.55,4.47,4.35,4.34,3.92,2.51];
const gRegN=[232,209,71,231,74,101,152,37,115,67,190,90,157,109,96,39,84,87,71,260];
const gRegFdr=[28,33,20,29,26.5,29.5,25,22,27,23.5,33,24,33,23,21,20.5,28,31,20,33];

// ---------- drawing ----------
const svg=d3.select("#c");
const defs=svg.append("defs");
const dark="#231f20";
function label(t,x,y,size,o={}){
  const s=svg.append("text").attr("x",x).attr("y",y).attr("font-size",size).text(t);
  if(o.anchor)s.attr("text-anchor",o.anchor);
  if(o.weight)s.attr("font-weight",o.weight);
  if(o.fill)s.style("fill",o.fill);
  if(o.rotate!==undefined)s.attr("transform",`rotate(${o.rotate} ${x} ${y})`);
  return s;
}
[["a",8,41],["b",490,41],["c",13,598],["d",8,1126],["e",512,1126],["f",1,1628],["g",515,1628]].forEach(d=>label(d[0],d[1],d[2],45));

// panel a
const ax=d3.scaleLinear([-30.65,26.7],[50,419.8]);
const ay=d3.scaleLinear([-31.4,28.6],[497.4,78]);
const clusterColors=["#f2645f","#9a9a1f","#1fb172","#2aa6e0","#b86ab4"];
const pa=svg.append("g");
clusterEllipses.forEach(e=>{
  pa.append("ellipse").attr("cx",0).attr("cy",0).attr("rx",e[2]).attr("ry",e[3])
    .attr("transform",`translate(${ax(e[0])},${ay(e[1])}) rotate(${e[4]})`)
    .attr("fill","none").attr("stroke",e[5]).attr("stroke-width",1.5);
});
zones.forEach((z,zi)=>{
  pa.append("g").selectAll("circle").data(z).join("circle")
    .attr("cx",d=>ax(d[0])).attr("cy",d=>ay(d[1])).attr("r",2).attr("fill",clusterColors[zoneCluster[zi]]);
});
const aAxisB=svg.append("g").attr("transform","translate(0,497)").call(d3.axisBottom(ax).tickValues([-30,-20,-10,0,10,20]).tickSize(4).tickPadding(5).tickSizeOuter(0));
const aAxisL=svg.append("g").attr("transform","translate(50,0)").call(d3.axisLeft(ay).tickValues([-30,-20,-10,0,10,20]).tickSize(4).tickPadding(2).tickSizeOuter(0));
[aAxisB,aAxisL].forEach(g=>{g.selectAll("text").attr("font-size",19.5);g.selectAll("path,line").attr("stroke","#444").attr("stroke-width",1.4);});
label("tSNE_1",236.7,539,19.5,{anchor:"middle"});
label("tSNE_2",16,278,19.5,{anchor:"middle",rotate:-90});
label("Subclustering of Myeloid cells",248,39,25,{anchor:"middle"});
const t2=label("",252,69.5,25,{anchor:"middle"});
t2.append("tspan").text("from ");
t2.append("tspan").style("fill","#21b5b8").text("clusters 3 ");
t2.append("tspan").style("fill","#6b8fd0").text("and 4");
[["Granulocytes",60,104.6,"start"],["Tumor associated",316.7,159,"middle"],["monocytes & macrophages",316.7,177.5,"middle"],["Mast cells",52.7,246.4,"start"],["Dendritic cells",62,377.5,"start"],["mature DC",171.7,469.6,"start"]]
 .forEach(d=>label(d[0],d[1],d[2],15.6,{anchor:d[3],weight:"bold"}));
[["0",299,280],["1",167.7,313.6],["2",185.3,151],["3",155,445.7],["4",70.7,289]].forEach(d=>label(d[0],d[1],d[2],25,{anchor:"middle",weight:"bold"}));
svg.append("line").attr("x1",81.7).attr("y1",251.8).attr("x2",75).attr("y2",265.4).attr("stroke",dark).attr("stroke-width",1.2);

// panel b
const heatTop=46,heatBottom=476.7;
const rowY=d3.scaleBand(d3.range(heatGenes.length),[heatTop,heatBottom]);
const groupEdges=[[574.5,820.2],[821.8,949.6],[951.1,991.3],[992.8,1010.4],[1011.6,1020.4]];
const barColors=["#f8736b","#a5a52e","#22b573","#29abe2","#bb6bb5"];
const heatColor=d3.scaleLinear([-2.5,0,2.5],["#ff00ff","#000000","#f9f01c"]);
const heatValue=c=>(c in heatNegative)?heatNegative[c]:(+c)/9*2.5;
const pb=svg.append("g").attr("shape-rendering","crispEdges");
heatRows.forEach((row,ri)=>{
  row.forEach((s,gi)=>{
    const xb=d3.scaleBand(d3.range(s.length),groupEdges[gi]);
    pb.append("g").selectAll("rect").data(s.split("")).join("rect")
      .attr("x",(d,i)=>xb(i)).attr("width",xb.bandwidth()+.4)
      .attr("y",rowY(ri)).attr("height",rowY.bandwidth()+.4)
      .attr("fill",d=>heatColor(heatValue(d)));
  });
  label(heatGenes[ri],571.8,rowY(ri)+rowY.bandwidth()/2+6,17.8,{anchor:"end"});
});
groupEdges.forEach((e,i)=>{
  svg.append("rect").attr("x",e[0]).attr("y",29).attr("width",e[1]-e[0]).attr("height",9.3).attr("fill",barColors[i]);
});
[696,885,971,1001,1016.5].forEach((x,i)=>{
  label(heatClusterLabels[i],x,24,20,{anchor:"middle",rotate:-45});
});
[[43,125.7,71.7],[133,215,165.7],[220,299,259],[306.7,386.7,345.7],[394,473,444]].forEach((d,i)=>{
  svg.append("line").attr("x1",1025).attr("x2",1025).attr("y1",d[0]).attr("y2",d[1]).attr("stroke",barColors[i]).attr("stroke-width",2);
  label(heatGroupNames[i],1033,d[2]+8,23);
});

// panel c
const featureColor=d3.scaleLinear([0,1,2,3,4],["#d2d2d2","#c4b5dc","#9b84c6","#6a5bb0","#3349a6"]);
function feature(name,levels,col,row,tick,legendDomain,fmt){
  const ox=[0,277.3,566][col],oy=row*250,lx=[0,277,572][col];
  const x=d3.scaleLinear([-31.7,27.6],[114+ox,289+ox]);
  const y=d3.scaleLinear([-31.8,28.7],[775+oy,596+oy]);
  const cells=[];
  zones.forEach((z,zi)=>z.forEach((p,i)=>{const c=levels[zi][i];cells.push({p,l:(c===undefined||c===" ")?0:+c});}));
  cells.sort((a,b)=>a.l-b.l);
  svg.append("g").selectAll("circle").data(cells).join("circle")
    .attr("cx",d=>x(d.p[0])).attr("cy",d=>y(d.p[1])).attr("r",d=>d.l>=3?1.05:.95).attr("fill",d=>featureColor(d.l));
  const hy=d3.format("d");
  const b=svg.append("g").attr("transform",`translate(0,${775+oy})`).call(d3.axisBottom(x).tickValues([-30,-20,-10,0,10,20]).tickFormat(v=>hy(v).replace("−","-")).tickSize(3).tickPadding(3).tickSizeOuter(0));
  const l=svg.append("g").attr("transform",`translate(${114+ox},0)`).call(d3.axisLeft(y).tickValues([-30,-20,-10,0,10,20]).tickFormat(v=>hy(v).replace("−","-")).tickSize(3).tickPadding(1).tickSizeOuter(0));
  [b,l].forEach(g=>{g.selectAll("text").attr("font-size",18);g.selectAll("path,line").attr("stroke","#333").attr("stroke-width",1.1);});
  label(name,[207,484,776][col],[595,845][row],20.5,{anchor:"middle"});
  label("tSNE_1",199+ox,[815,1065][row],18,{anchor:"middle"});
  label("tSNE_2",75+ox,682+oy,18,{anchor:"middle",rotate:-90});
  const id="grad"+col+row;
  const g=defs.append("linearGradient").attr("id",id).attr("x1",0).attr("y1",1).attr("x2",0).attr("y2",0);
  [0,1,2,3,4].forEach(v=>g.append("stop").attr("offset",v/4).attr("stop-color",featureColor(v)));
  const top=650+oy,bottom=727.7+oy;
  svg.append("rect").attr("x",293.3+lx).attr("y",top).attr("width",15.4).attr("height",bottom-top).attr("fill",`url(#${id})`);
  const ls=d3.scaleLinear(legendDomain,[bottom,top]);
  tick.forEach(v=>label(d3.format(fmt)(v),312.5+lx,ls(v)+6,18));
}
feature("Ly6c2",levelsLy6c2,0,0,[1,2,3],[.05,3.2],"d");
feature("Cd68",levelsCd68,1,0,[.5,1,1.5,2],[.105,2.34],".1f");
feature("Arg1",levelsArg1,2,0,[1,2,3],[.13,3.74],"d");
feature("Ccr2",levelsCcr2,0,1,[1,2],[.07,2.93],"d");
feature("Clec9a",levelsClec9a,1,1,[.03,.06,.09,.12],[.004,.13],".2f");
feature("Flt3",levelsFlt3,2,1,[.05,.1,.15,.2],[.002,.218],".2f");

// panels d, f
const outline=(x,y)=>d3.line().x(d=>x(d[0])).y(d=>y(d[1]));
function volcano(o){
  const x=d3.scaleLinear(o.xd,o.xr),y=d3.scaleLinear(o.yd,o.yr);
  svg.append("rect").attr("x",o.xr[0]).attr("y",o.yr[1]).attr("width",o.xr[1]-o.xr[0]).attr("height",o.yr[0]-o.yr[1]).attr("fill",o.bg);
  const gr=svg.append("g").attr("stroke","#6d6d6d").attr("stroke-width",1.1).attr("stroke-dasharray","1.5,2.5");
  gr.selectAll(".v").data(o.xt).join("line").attr("x1",d=>x(d)).attr("x2",d=>x(d)).attr("y1",o.yr[0]).attr("y2",o.yr[1]);
  gr.selectAll(".h").data(o.yt).join("line").attr("y1",d=>y(d)).attr("y2",d=>y(d)).attr("x1",o.xr[0]).attr("x2",o.xr[1]);
  const line=outline(x,y);
  const gray="#aeb0b3";
  svg.append("path").attr("d",line(o.grayCloud)+"Z").attr("fill",gray).attr("stroke",gray).attr("stroke-width",2).attr("stroke-linejoin","round");
  svg.append("g").selectAll("circle").data(o.gray).join("circle").attr("cx",d=>x(d[0])).attr("cy",d=>y(d[1])).attr("r",1.6).attr("fill",gray);
  svg.append("g").selectAll("circle").data(o.blue).join("circle").attr("cx",d=>x(d[0])).attr("cy",d=>y(d[1])).attr("r",1.6).attr("fill","#2b4aa0");
  svg.append("path").attr("d",line(o.redCloud)+"Z").attr("fill","#ee2024").attr("stroke","#ee2024").attr("stroke-width",2).attr("stroke-linejoin","round");
  svg.append("g").selectAll("circle").data(o.red).join("circle").attr("cx",d=>x(d[0])).attr("cy",d=>y(d[1])).attr("r",1.6).attr("fill","#ee2024");
  o.blueText.forEach(d=>label(d[0],x(d[1]),y(d[2])+5,14.5,{anchor:"middle",fill:"#3b55a5"}));
  o.redText.forEach(d=>label(d[0],x(d[1]),y(d[2])+5,14.5,{anchor:"middle",fill:"#ee2024"}));
  svg.append("rect").attr("x",o.xr[0]).attr("y",o.yr[1]).attr("width",o.xr[1]-o.xr[0]).attr("height",o.yr[0]-o.yr[1]).attr("fill","none").attr("stroke","#1d1d1b").attr("stroke-width",2.5);
  const b=svg.append("g").attr("transform",`translate(0,${o.yr[0]})`).call(d3.axisBottom(x).tickValues(o.xt).tickFormat(o.fx).tickSize(0).tickPadding(o.xPad));
  const l=svg.append("g").attr("transform",`translate(${o.xr[0]},0)`).call(d3.axisLeft(y).tickValues(o.yt).tickFormat(d3.format("d")).tickSize(0).tickPadding(5));
  [b,l].forEach(g=>{g.select(".domain").remove();g.selectAll("text").attr("font-size",20.5);});
  label(o.title,o.titleX,o.titleY,27,{anchor:"middle",fill:o.titleFill});
  const xl=label("log",o.xlX,o.xlY,31,{anchor:"middle"});
  xl.append("tspan").attr("font-size",20).attr("dy",9).text("2");
  xl.append("tspan").attr("dy",-9).text(" FC");
  const yl=label("-log",38,o.ylY,32,{anchor:"middle",rotate:-90});
  yl.append("tspan").attr("font-size",20).attr("dy",9).text("10");
  yl.append("tspan").attr("dy",-9).text(" p-val");
  return {x,y};
}
volcano({xd:[-1.281,1.445],xr:[78.3,475],yd:[-.3,5.956],yr:[1525,1129.3],bg:"#fde8e3",xt:[-1,-.5,0,.5,1],yt:[0,2,4],
  grayCloud:volcanoDGrayCloud,gray:volcanoDGray,blue:volcanoDBlue,red:volcanoDRed,redCloud:volcanoDRedCloud,blueText:volcanoDBlueText,redText:volcanoDRedText,
  fx:v=>d3.format(".1f")(v).replace("−","-"),xPad:7,title:"Subcluster 0",titleX:280.7,titleY:1120,titleFill:"#f4706c",xlX:268,xlY:1568,ylY:1318});
const fv=volcano({xd:[-4.968,4.607],xr:[75,472],yd:[-1.32,27.96],yr:[2035,1636.7],bg:"#e9e8cf",xt:[-2.5,0,2.5],yt:[0,10,20],
  grayCloud:volcanoFGrayCloud,gray:volcanoFGray,blue:volcanoFBlue,red:volcanoFRed,redCloud:volcanoFRedCloud,blueText:volcanoFBlueText,redText:volcanoFRedText,
  fx:v=>v===0?"0":d3.format(".1f")(v).replace("−","-"),xPad:11,title:"Subcluster 1",titleX:280,titleY:1628,titleFill:"#9a9a25",xlX:281.7,xlY:2089,ylY:1830});
svg.append("line").attr("x1",fv.x(2.69)).attr("y1",fv.y(18.9)).attr("x2",fv.x(2.81)).attr("y2",fv.y(18.3)).attr("stroke","#ee2024").attr("stroke-width",.8);

// panels e, g
function bars(o){
  const x=d3.scaleLinear([0,o.xMax],[o.x0,o.x0+o.xMax*o.unit]);
  const y=d3.scalePoint(d3.range(o.cats.length),[o.yFirst,o.yLast]);
  const color=d3.scaleLinear(o.fdrDomain,o.fdrRange).clamp(true);
  const g=svg.append("g");
  g.selectAll("rect").data(o.z).join("rect").attr("x",x(0)).attr("y",(d,i)=>y(i)-o.bh/2).attr("width",d=>x(d)-x(0)).attr("height",o.bh)
    .attr("fill",(d,i)=>color(o.fdr[i])).attr("stroke","#4a4a4a").attr("stroke-width",1.2);
  o.cats.forEach((c,i)=>{
    const parts=c.split("\n");
    if(parts.length===1)label(c,o.labelX,y(i)+o.font*.36,o.font,{anchor:"end"});
    else{
      const t=label("",o.labelX,y(i)-2.5,o.font,{anchor:"end"});
      t.append("tspan").attr("x",o.labelX).text(parts[0]);
      t.append("tspan").attr("x",o.labelX).attr("dy",11).text(parts[1]);
    }
    label(o.n[i],x(o.z[i])+2.5,y(i)+5,14,{});
  });
  const ax=svg.append("g").attr("transform",`translate(0,${o.tickY})`).call(d3.axisBottom(x).tickValues(o.ticks).tickFormat(o.fmt).tickSize(0).tickPadding(0));
  ax.select(".domain").remove();ax.selectAll("text").attr("font-size",13.5);
  label("Predicted Z score",o.zX,o.zY,19.8,{anchor:"middle"});
  label(o.side,o.sideX,o.sideY,33,{anchor:"middle",rotate:-90});
  label("N Genes",o.nX,o.nY,18);
  const lg=o.legend;
  svg.append("rect").attr("x",lg.box[0]).attr("y",lg.box[1]).attr("width",lg.box[2]-lg.box[0]).attr("height",lg.box[3]-lg.box[1]).attr("fill","#fff").attr("stroke","#444").attr("stroke-width",1.2);
  const t=label("-log",lg.title[0],lg.title[1],14);
  t.append("tspan").attr("font-size",8).attr("dy",4).text("10");
  t.append("tspan").attr("dy",-4).text(" FDR");
  const id="fdr"+o.id;
  const gr=defs.append("linearGradient").attr("id",id).attr("x1",0).attr("y1",1).attr("x2",0).attr("y2",0);
  gr.append("stop").attr("offset",0).attr("stop-color",o.fdrRange[0]);
  gr.append("stop").attr("offset",1).attr("stop-color",o.fdrRange[1]);
  svg.append("rect").attr("x",lg.bar[0]).attr("y",lg.bar[1]).attr("width",lg.bar[2]-lg.bar[0]).attr("height",lg.bar[3]-lg.bar[1]).attr("fill",`url(#${id})`);
  const ls=d3.scaleLinear(lg.domain,[lg.yLow,lg.yHigh]);
  lg.ticks.forEach(v=>label(lg.fmt(v),lg.labelX,ls(v)+5.5,15));
}
const redRange=["#fbabb7","#cb4a50"],goldRange=["#fcbe1e","#89692b"];
bars({id:1,cats:eFuncCats,z:eFuncZ,n:eFuncN,fdr:eFuncFdr,x0:769.3,unit:44.25,xMax:4.5,yFirst:1135,yLast:1506.7,bh:11.5,labelX:766,font:14.3,fdrDomain:[9,13],fdrRange:redRange,
  ticks:[0,1,2,3,4],fmt:d3.format("d"),tickY:1520,zX:878,zY:1551,side:"Functions",sideX:547,sideY:1325,nX:907,nY:1323,
  legend:{box:[911.7,1340.7,987.7,1450],title:[918,1355],bar:[920.7,1369.3,927.3,1445],domain:[9,13],yLow:1442.7,yHigh:1368.7,ticks:[9,10,11,12,13],fmt:d3.format("d"),labelX:932}});
bars({id:2,cats:eRegCats,z:eRegZ,n:eRegN,fdr:eRegFdr,x0:1122.7,unit:55.1,xMax:3.3,yFirst:1134.7,yLast:1506,bh:11.5,labelX:1120,font:14.3,fdrDomain:[5.5,13],fdrRange:redRange,
  ticks:[0,1,2,3],fmt:d3.format("d"),tickY:1520,zX:1244,zY:1551,side:"Regulators",sideX:1051,sideY:1333,nX:1290,nY:1330,
  legend:{box:[1285.7,1384.7,1357.3,1488.3],title:[1288,1400],bar:[1290.7,1409.3,1297.3,1483.3],domain:[6,12],yLow:1475.3,yHigh:1424.3,ticks:[6,8,10,12],fmt:d3.format("d"),labelX:1302.7}});
bars({id:3,cats:gFuncCats,z:gFuncZ,n:gFuncN,fdr:gFuncFdr,x0:769.3,unit:22,xMax:8.5,yFirst:1656.7,yLast:2000.7,bh:10.7,labelX:766.7,font:14.3,fdrDomain:[34,44],fdrRange:goldRange,
  ticks:[0,2.5,5,7.5],fmt:d3.format(".1f"),tickY:2014,zX:876.7,zY:2047,side:"Functions",sideX:547,sideY:1805,nX:909.3,nY:1833,
  legend:{box:[906,1884,986.7,1992.7],title:[911,1898],bar:[927.3,1906,935.3,1986.7],domain:[36,42],yLow:1965,yHigh:1921.7,ticks:[36,39,42],fmt:d3.format("d"),labelX:940}});
bars({id:4,cats:gRegCats,z:gRegZ,n:gRegN,fdr:gRegFdr,x0:1124.7,unit:24.67,xMax:8.2,yFirst:1657,yLast:2002.7,bh:10.7,labelX:1121,font:12.5,fdrDomain:[20,33],fdrRange:goldRange,
  ticks:[0,2,4,6,8],fmt:d3.format("d"),tickY:2014,zX:1248,zY:2045,side:"Regulators",sideX:1062,sideY:1813,nX:1286,nY:1837,
  legend:{box:[1289,1890.7,1364,1993.7],title:[1292,1905],bar:[1302.7,1920,1309.3,1989],domain:[20,32.5],yLow:1984,yHigh:1918,ticks:[20,22.5,25,27.5,30,32.5],fmt:d3.format(".1f"),labelX:1316.7}});
</script></body></html>
